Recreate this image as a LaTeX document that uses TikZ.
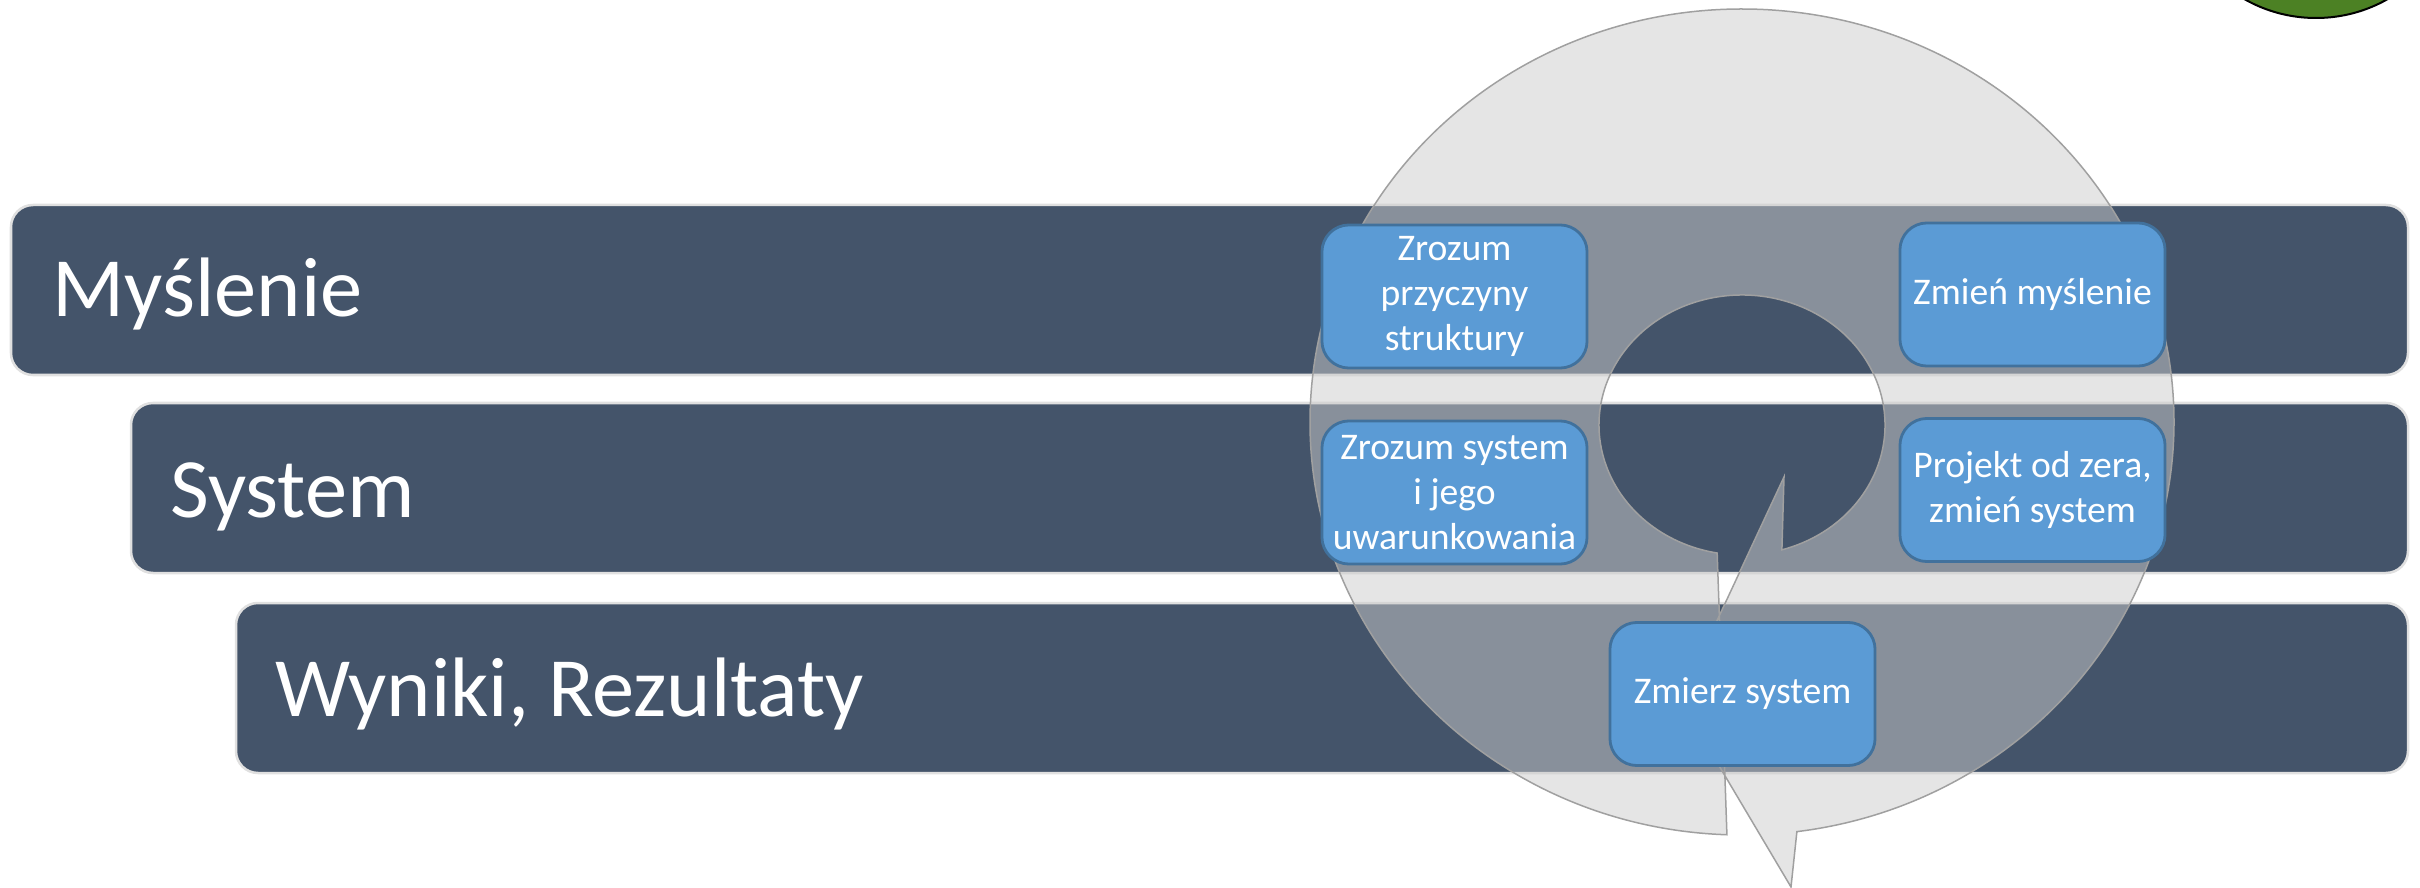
\documentclass[tikz,border=0pt]{standalone}
\usepackage{fontspec}
\setmainfont{Carlito}
\usetikzlibrary{calc}
\definecolor{slate}{HTML}{44546A}
\definecolor{boxblue}{HTML}{5B9BD5}
\definecolor{boxedge}{HTML}{41719C}
\definecolor{leaf}{HTML}{4C8124}
\definecolor{ringline}{HTML}{A0A0A0}
\begin{document}
\begin{tikzpicture}[x=0.01cm,y=-0.01cm,
  band/.style={fill=slate, draw=black!12, line width=0.025cm, rounded corners=0.22cm},
  bandlabel/.style={anchor=base west, inner sep=0pt, text=white,
    font=\fontsize{24}{29}\selectfont},
  stepbox/.style={fill=boxblue, draw=boxedge, line width=0.028cm,
    rounded corners=0.27cm, minimum width=2.65cm, minimum height=1.43cm,
    inner sep=0pt, align=center, text=white,
    font=\fontsize{10.7}{12.9}\selectfont},
  ring/.style={fill=black!20, fill opacity=0.5, draw=ringline,
    line width=0.015cm, line join=miter},
]
\clip (0,0) rectangle (2420,888);
\fill[white] (0,0) rectangle (2420,888);

% three level bands
\draw[band] (11,205) rectangle (2408,375);
\draw[band] (131,403) rectangle (2408,573);
\draw[band] (236,603) rectangle (2408,773);

\node[bandlabel] (thinking) at (52,317) {Myślenie};
\node[bandlabel] (system) at (170,517) {System};
\node[bandlabel] (results) at (275,716) {Wyniki, Rezultaty};

% translucent circular arrow
\coordinate (oc) at (1742,422);
\coordinate (ic) at (1742,425);
\coordinate (outwing) at (1791,887);
\coordinate (tip) at (1680,700);
\coordinate (inwing) at (1784,477);
\path[ring]
  ($(oc)+(92:432 and 413)$)
    arc[start angle=92, end angle=442.7, x radius=432, y radius=413]
  -- (outwing) -- (tip) -- (inwing)
  -- ($(ic)+(73.8:143 and 130)$)
    arc[start angle=73.8, end angle=-260, x radius=143, y radius=130]
  -- cycle;

% steps of the cycle
\node[stepbox] (cause) at (1454.5,296.5) {Zrozum\\przyczyny\\struktury};
\node[stepbox] (know) at (1454.5,492.5) {Zrozum system\\i jego\\uwarunkowania};
\node[stepbox] (mind) at (2032.5,294.5) {Zmień myślenie};
\node[stepbox] (redesign) at (2032.5,490) {Projekt od zera,\\zmień system};
\node[stepbox] (measure) at (1742.5,694) {Zmierz system};

% green disc at the top edge
\draw[fill=leaf, draw=black, line width=0.02cm] (2316,-127) circle[radius=145];
\end{tikzpicture}
\end{document}
